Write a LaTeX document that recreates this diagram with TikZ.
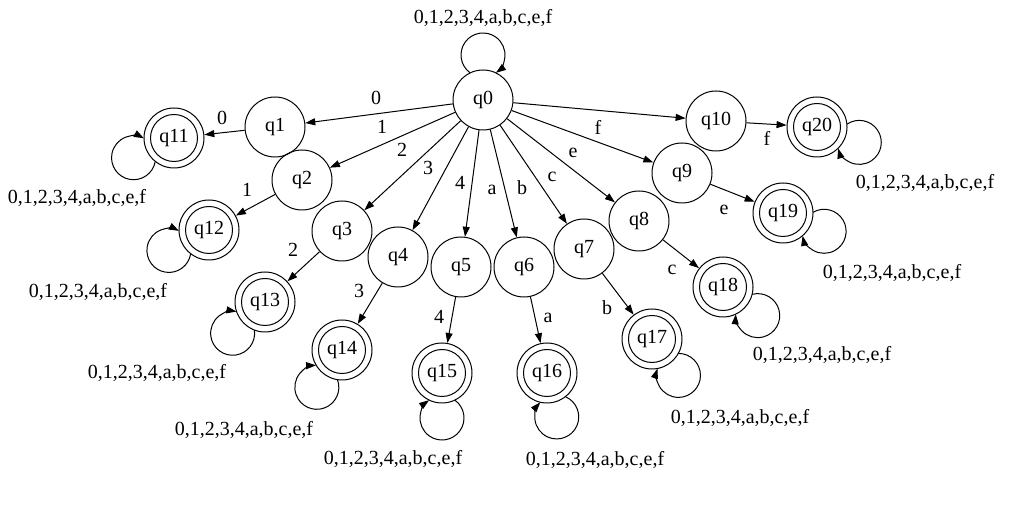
\documentclass[tikz,border=0pt]{standalone}
\usepackage{fontspec}
\setmainfont{Liberation Serif}
\usetikzlibrary{arrows.meta,calc}
\newcommand\selfloop[4]{% node, angle, label name, label position
  \draw[edge] ($(#1)+(#2:45)$) ++(#2+144:22) arc[start angle=#2+144, end angle=#2-144, radius=22];
  \node[lbl] (#3) at (#4) {0,1,2,3,4,a,b,c,e,f};
}
\begin{document}
\begin{tikzpicture}[x=1pt,y=1pt,
  every node/.style={font=\fontsize{20}{24}\selectfont},
  st/.style={circle,draw,line width=1pt,minimum size=60pt,inner sep=0pt},
  acc/.style={st,path picture={\draw[line width=1pt] (path picture bounding box.center) circle (23.5pt);}},
  edge/.style={line width=1pt,-{Triangle[length=10pt,width=7pt]}},
  lbl/.style={inner sep=0pt},
]
\useasboundingbox (0,0) rectangle (1016,505);
% states
\node[st] (q0) at (483,405) {q0};
\node[st] (q1) at (275,378) {q1};
\node[st] (q2) at (302,325) {q2};
\node[st] (q3) at (342,274) {q3};
\node[st] (q4) at (398,248) {q4};
\node[st] (q5) at (461,238) {q5};
\node[st] (q6) at (524,238) {q6};
\node[st] (q7) at (584,256) {q7};
\node[st] (q8) at (639,284) {q8};
\node[st] (q9) at (682,332) {q9};
\node[st] (q10) at (716,384) {q10};
\node[acc] (q11) at (174,367) {q11};
\node[acc] (q12) at (209,275) {q12};
\node[acc] (q13) at (265,203) {q13};
\node[acc] (q14) at (342,155) {q14};
\node[acc] (q15) at (442,132) {q15};
\node[acc] (q16) at (547,132) {q16};
\node[acc] (q17) at (652,166) {q17};
\node[acc] (q18) at (723,218) {q18};
\node[acc] (q19) at (783,292) {q19};
\node[acc] (q20) at (817,378) {q20};
% transitions from q0
\draw[edge] (q0) -- (q1) node[lbl] (e1) at (376,407) {0};
\draw[edge] (q0) -- (q2) node[lbl] (e2) at (382,378) {1};
\draw[edge] (q0) -- (q3) node[lbl] (e3) at (402,355) {2};
\draw[edge] (q0) -- (q4) node[lbl] (e4) at (428,337) {3};
\draw[edge] (q0) -- (q5) node[lbl] (e5) at (460,322) {4};
\draw[edge] (q0) -- (q6) node[lbl] (e6) at (492,315) {a};
\draw[edge] (q0) -- (q7) node[lbl] (e7) at (522,317) {b};
\draw[edge] (q0) -- (q8) node[lbl] (e8) at (552,328) {c};
\draw[edge] (q0) -- (q9) node[lbl] (e9) at (573,352) {e};
\draw[edge] (q0) -- (q10) node[lbl] (e10) at (598,378) {f};
% second transitions
\draw[edge] (q1) -- (q11) node[lbl] (e11) at (222,387) {0};
\draw[edge] (q2) -- (q12) node[lbl] (e12) at (247,315) {1};
\draw[edge] (q3) -- (q13) node[lbl] (e13) at (293,255) {2};
\draw[edge] (q4) -- (q14) node[lbl] (e14) at (359,214) {3};
\draw[edge] (q5) -- (q15) node[lbl] (e15) at (439,188) {4};
\draw[edge] (q6) -- (q16) node[lbl] (e16) at (548,187) {a};
\draw[edge] (q7) -- (q17) node[lbl] (e17) at (607,197) {b};
\draw[edge] (q8) -- (q18) node[lbl] (e18) at (672,235) {c};
\draw[edge] (q9) -- (q19) node[lbl] (e19) at (724,295) {e};
\draw[edge] (q10) -- (q20) node[lbl] (e20) at (767,367) {f};
% self loops
\selfloop{q0}{90}{l0}{483,487}
\selfloop{q11}{206}{l11}{77,307}
\selfloop{q12}{207}{l12}{98,213}
\selfloop{q13}{224}{l13}{157,132}
\selfloop{q14}{236}{l14}{244,75}
\selfloop{q15}{270}{l15}{393,46}
\selfloop{q16}{282.5}{l16}{595,45}
\selfloop{q17}{306}{l17}{740,87}
\selfloop{q18}{320.5}{l18}{822,150}
\selfloop{q19}{336}{l19}{892,232}
\selfloop{q20}{340}{l20}{925,322}
\end{tikzpicture}
\end{document}
